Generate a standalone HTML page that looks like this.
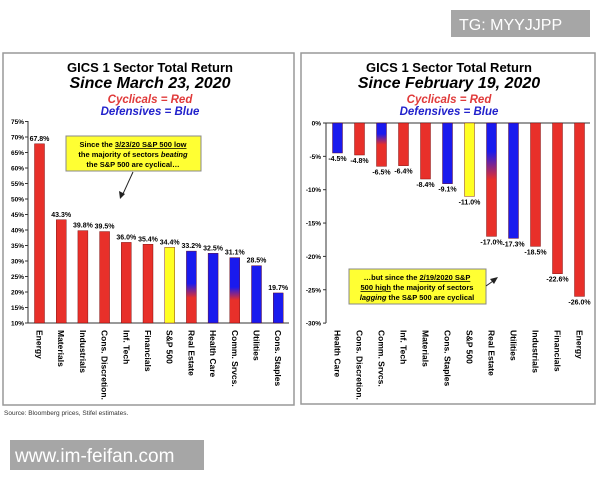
<!DOCTYPE html>
<html><head><meta charset="utf-8"><style>
body{margin:0;background:#fff;width:600px;height:480px;overflow:hidden;font-family:"Liberation Sans",sans-serif}
</style></head><body>
<svg id="s" width="600" height="480" xmlns="http://www.w3.org/2000/svg" font-family="Liberation Sans, sans-serif">
<defs>
<linearGradient id="g1" x1="0" y1="0" x2="0" y2="1"><stop offset="0.45" stop-color="#1a1aee"/><stop offset="0.65" stop-color="#e8302a"/></linearGradient>
<linearGradient id="g2" x1="0" y1="0" x2="0" y2="1"><stop offset="0.25" stop-color="#1a1aee"/><stop offset="0.5" stop-color="#e8302a"/></linearGradient>
</defs>
<rect x="3" y="53" width="291" height="352" fill="#fff" stroke="#999" stroke-width="1.5"/>
<rect x="301" y="53" width="294" height="351" fill="#fff" stroke="#999" stroke-width="1.5"/>
<g font-weight="bold" text-anchor="middle">
<text x="150" y="72" font-size="13">GICS 1 Sector Total Return</text>
<text x="150" y="88" font-size="16" font-style="italic">Since March 23, 2020</text>
<text x="150" y="103" font-size="11.5" font-style="italic" fill="#e03a3a">Cyclicals = Red</text>
<text x="150" y="115" font-size="11.5" font-style="italic" fill="#2222cc">Defensives = Blue</text>
<text x="449" y="72" font-size="13">GICS 1 Sector Total Return</text>
<text x="449" y="88" font-size="16" font-style="italic">Since February 19, 2020</text>
<text x="449" y="103" font-size="11.5" font-style="italic" fill="#e03a3a">Cyclicals = Red</text>
<text x="449" y="115" font-size="11.5" font-style="italic" fill="#2222cc">Defensives = Blue</text>
</g>
<g id="L"></g><g id="R"></g>
<rect x="66" y="136" width="135" height="35" fill="#ffff33" stroke="#888"/>
<g font-size="7.5" font-weight="bold" text-anchor="middle">
<text x="133" y="147">Since the <tspan text-decoration="underline">3/23/20 S&amp;P 500 low</tspan></text>
<text x="133" y="157">the majority of sectors <tspan font-style="italic">beating</tspan></text>
<text x="133" y="167">the S&amp;P 500 are cyclical…</text>
</g>
<line x1="133" y1="172" x2="122" y2="196" stroke="#222" stroke-width="1"/>
<path d="M120,199 L119,191 L125,194Z" fill="#222"/>
<rect x="349" y="269" width="137" height="35" fill="#ffff33" stroke="#888"/>
<g font-size="7.5" font-weight="bold" text-anchor="middle">
<text x="417" y="280">…but since the <tspan text-decoration="underline">2/19/2020 S&amp;P</tspan></text>
<text x="417" y="290"><tspan text-decoration="underline">500 high</tspan> the majority of sectors</text>
<text x="417" y="300"><tspan font-style="italic">lagging</tspan> the S&amp;P 500 are cyclical</text>
</g>
<line x1="486" y1="286" x2="496" y2="279" stroke="#222"/>
<path d="M498,277 L490,279 L494,284Z" fill="#222"/>
<text x="4" y="415" font-size="6.5" fill="#333">Source: Bloomberg prices, Stifel estimates.</text>
<rect x="451" y="10" width="139" height="27" fill="#a6a6a6"/>
<text x="459" y="30" font-size="16" fill="#fff">TG: MYYJJPP</text>
<rect x="10" y="440" width="194" height="30" fill="#a6a6a6"/>
<text x="15" y="462" font-size="19" fill="#fff">www.im-feifan.com</text>
</svg>
<script>
var NS="http://www.w3.org/2000/svg";
function el(p,t,a,txt){var e=document.createElementNS(NS,t);for(var k in a)e.setAttribute(k,a[k]);if(txt!=null)e.textContent=txt;p.appendChild(e);return e;}
var R="#e8302a",B="#1a1aee",Y="#ffff22";
// left
var L=document.getElementById("L");
var ld=[["Energy",67.8,R],["Materials",43.3,R],["Industrials",39.8,R],["Cons. Discretion.",39.5,R],["Inf. Tech",36.0,R],["Financials",35.4,R],["S&P 500",34.4,Y],["Real Estate",33.2,"url(#g1)"],["Health Care",32.5,B],["Comm. Srvcs.",31.1,"url(#g1)"],["Utilities",28.5,B],["Cons. Staples",19.7,B]];
function ly(v){return 323-(v-10)*3.1;}
el(L,"line",{x1:28,y1:121,x2:28,y2:323,stroke:"#333"});
el(L,"line",{x1:28,y1:323,x2:289,y2:323,stroke:"#333"});
for(var v=10;v<=75;v+=5){var y=ly(v);el(L,"line",{x1:25,y1:y,x2:28,y2:y,stroke:"#333"});el(L,"text",{x:24,y:y+2.5,"font-size":6.5,"font-weight":"bold","text-anchor":"end"},v+"%");}
ld.forEach(function(d,i){var cx=39.5+i*21.7,y=ly(d[1]);
el(L,"rect",{x:cx-5,y:y,width:10,height:323-y,fill:d[2],stroke:"#600",'stroke-width':0.4});
el(L,"text",{x:cx,y:y-3,"font-size":7,"font-weight":"bold","text-anchor":"middle"},d[1].toFixed(1)+"%");
el(L,"text",{transform:"translate("+(cx-3)+",330) rotate(90)","font-size":8.5,"font-weight":"bold"},d[0]);});
// right
var Rg=document.getElementById("R");
var rd=[["Health Care",-4.5,B],["Cons. Discretion.",-4.8,R],["Comm. Srvcs.",-6.5,"url(#g2)"],["Inf. Tech",-6.4,R],["Materials",-8.4,R],["Cons. Staples",-9.1,B],["S&P 500",-11.0,Y],["Real Estate",-17.0,"url(#g2)"],["Utilities",-17.3,B],["Industrials",-18.5,R],["Financials",-22.6,R],["Energy",-26.0,R]];
function ry(v){return 123-v*6.67;}
el(Rg,"line",{x1:326,y1:123,x2:326,y2:323,stroke:"#333"});
el(Rg,"line",{x1:326,y1:123,x2:590,y2:123,stroke:"#333"});
for(var v=0;v>=-30;v-=5){var y=ry(v);el(Rg,"line",{x1:323,y1:y,x2:326,y2:y,stroke:"#333"});el(Rg,"text",{x:321,y:y+2.5,"font-size":6.5,"font-weight":"bold","text-anchor":"end"},v+"%");}
rd.forEach(function(d,i){var cx=337.5+i*22,y=ry(d[1]);
el(Rg,"rect",{x:cx-5,y:123,width:10,height:y-123,fill:d[2],stroke:"#600",'stroke-width':0.4});
el(Rg,"text",{x:cx,y:y+8,"font-size":7,"font-weight":"bold","text-anchor":"middle"},d[1].toFixed(1)+"%");
el(Rg,"text",{transform:"translate("+(cx-3)+",330) rotate(90)","font-size":8.5,"font-weight":"bold"},d[0]);});
</script>
</body></html>
